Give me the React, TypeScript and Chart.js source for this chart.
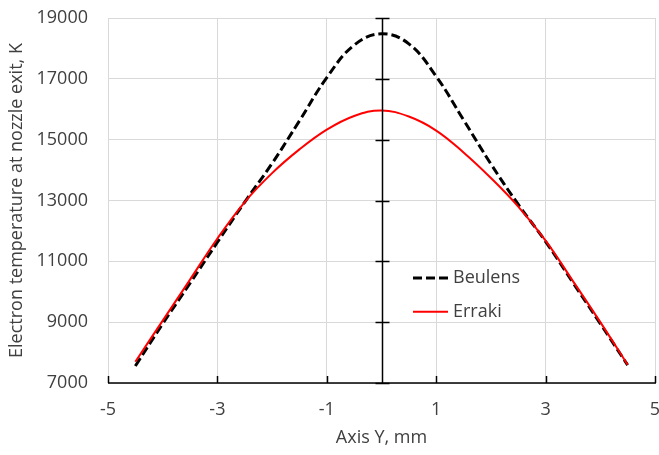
import React, { useEffect, useRef } from "react";
import { Chart, registerables } from "chart.js";

Chart.register(...registerables);

const xValues = [-4.5, -4, -3.5, -3, -2.5, -2, -1.5, -1, -0.5, 0, 0.5, 1, 1.5, 2, 2.5, 3, 3.5, 4, 4.5];
const beulens = [7560, 8950, 10280, 11630, 12950, 14220, 15620, 17040, 18110, 18480, 18150, 17080, 15650, 14200, 12870, 11650, 10300, 8950, 7590];
const erraki = [7700, 9050, 10400, 11750, 12950, 13900, 14680, 15330, 15780, 15960, 15760, 15300, 14580, 13740, 12800, 11680, 10350, 9000, 7600];

const xTitle = "Axis Y, mm";
const yTitle = "Electron temperature at nozzle exit, K";
const FONT = "'Open Sans', sans-serif";
const TEXT_COLOR = "#404040";
const GRID_COLOR = "#d9d9d9";

const axesPlugin = {
  id: "customAxes",
  afterDatasetsDraw(chart: any) {
    const { ctx, chartArea, scales } = chart;
    const xs = scales.x;
    const ys = scales.y;
    ctx.save();
    ctx.strokeStyle = "#000";
    ctx.lineWidth = 1.5;
    ctx.beginPath();
    ctx.moveTo(chartArea.left, chartArea.bottom);
    ctx.lineTo(chartArea.right + 1, chartArea.bottom);
    ctx.stroke();
    xs.ticks.forEach((t: any) => {
      const px = Math.round(xs.getPixelForValue(t.value)) + 0.5;
      ctx.beginPath();
      ctx.moveTo(px, chartArea.bottom);
      ctx.lineTo(px, chartArea.bottom - 7);
      ctx.stroke();
    });
    const x0 = Math.round(xs.getPixelForValue(0)) + 0.5;
    ctx.beginPath();
    ctx.moveTo(x0, chartArea.top);
    ctx.lineTo(x0, chartArea.bottom);
    ctx.stroke();
    ys.ticks.forEach((t: any) => {
      const py = Math.round(ys.getPixelForValue(t.value)) + 0.5;
      ctx.beginPath();
      ctx.moveTo(x0 - 7, py);
      ctx.lineTo(x0 + 7, py);
      ctx.stroke();
    });
    ctx.restore();
  },
};

const legendPlugin = {
  id: "insideLegend",
  afterDraw(chart: any) {
    const { ctx, chartArea } = chart;
    const w = chartArea.right - chartArea.left;
    const h = chartArea.bottom - chartArea.top;
    const lx = chartArea.left + w * 0.5576;
    const items = [
      { label: chart.data.datasets[1].label, color: "#000", width: 3, dash: [9, 4], y: chartArea.top + h * 0.712 },
      { label: chart.data.datasets[0].label, color: "#ff0000", width: 2, dash: [], y: chartArea.top + h * 0.805 },
    ];
    ctx.save();
    items.forEach((it) => {
      ctx.strokeStyle = it.color;
      ctx.lineWidth = it.width;
      ctx.setLineDash(it.dash);
      ctx.beginPath();
      ctx.moveTo(lx, it.y);
      ctx.lineTo(lx + 35, it.y);
      ctx.stroke();
      ctx.setLineDash([]);
      ctx.fillStyle = TEXT_COLOR;
      ctx.font = `18px ${FONT}`;
      ctx.textBaseline = "middle";
      ctx.textAlign = "left";
      ctx.fillText(it.label, lx + 40, it.y);
    });
    ctx.restore();
  },
};

export default function App() {
  const ref = useRef<HTMLCanvasElement>(null);
  useEffect(() => {
    document.body.style.margin = "0";
    const canvas = ref.current;
    if (!canvas) return;
    const chart = new Chart(canvas, {
      type: "line",
      data: {
        datasets: [
          {
            label: "Erraki",
            data: xValues.map((x, i) => ({ x, y: erraki[i] })),
            borderColor: "#ff0000",
            borderWidth: 2,
            pointRadius: 0,
            tension: 0.4,
            fill: false,
            order: 0,
          },
          {
            label: "Beulens",
            data: xValues.map((x, i) => ({ x, y: beulens[i] })),
            borderColor: "#000000",
            borderWidth: 3,
            borderDash: [9, 4],
            pointRadius: 0,
            tension: 0.4,
            fill: false,
            order: 1,
          },
        ],
      },
      options: {
        animation: false,
        responsive: false,
        maintainAspectRatio: false,
        layout: { padding: { top: 18, right: 4, left: 0, bottom: 0 } },
        plugins: { legend: { display: false }, tooltip: { enabled: false } },
        scales: {
          x: {
            type: "linear",
            min: -5,
            max: 5,
            ticks: {
              stepSize: 2,
              padding: 16,
              color: TEXT_COLOR,
              font: { family: FONT, size: 18 },
              maxRotation: 0,
              callback: (v: any) => String(v),
            },
            grid: { color: GRID_COLOR, drawTicks: false, lineWidth: 1 },
            border: { display: false },
            title: {
              display: true,
              text: xTitle,
              color: TEXT_COLOR,
              font: { family: FONT, size: 18 },
              padding: { top: 0, bottom: 6 },
            },
            afterFit: (s: any) => {
              s.height = 72;
              s.paddingLeft = 0;
              s.paddingRight = 0;
            },
          },
          y: {
            min: 7000,
            max: 19000,
            ticks: {
              stepSize: 2000,
              padding: 20,
              color: TEXT_COLOR,
              font: { family: FONT, size: 18 },
              callback: (v: any) => String(v),
            },
            grid: { color: GRID_COLOR, drawTicks: false, lineWidth: 1 },
            border: { display: true, color: GRID_COLOR },
            title: {
              display: true,
              text: yTitle,
              color: TEXT_COLOR,
              font: { family: FONT, size: 18 },
              padding: { top: 6, bottom: 0 },
            },
            afterFit: (s: any) => {
              s.width = 108;
              s.paddingTop = 0;
              s.paddingBottom = 0;
            },
          },
        },
      },
      plugins: [axesPlugin, legendPlugin],
    } as any);
    return () => chart.destroy();
  }, []);
  return (
    <div style={{ width: 659, height: 455, background: "#fff" }}>
      <canvas ref={ref} width={659} height={455} style={{ display: "block" }} />
    </div>
  );
}
